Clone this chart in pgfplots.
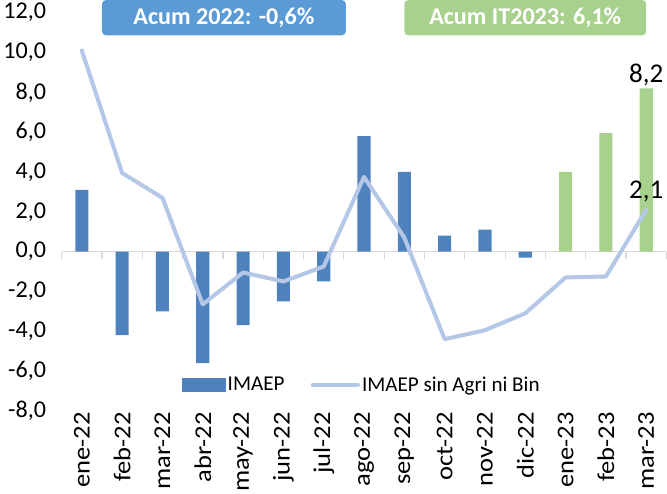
\documentclass[border=0pt]{standalone}
\usepackage{fontspec}
\setmainfont{Carlito}
\usepackage{pgfplots}
\pgfplotsset{compat=1.18}
\definecolor{barblue}{HTML}{4F81BD}
\definecolor{bargreen}{HTML}{A9D18E}
\definecolor{lineblue}{HTML}{B4C7E7}
\definecolor{boxblue}{HTML}{5B9BD5}
\definecolor{axisgray}{HTML}{D9D9D9}

\begin{document}
\begin{tikzpicture}
\begin{axis}[
    scale only axis,
    width=600bp, height=395bp,
    xmin=-0.5, xmax=14.5,
    ymin=-8, ymax=12,
    clip=false,
    axis line style={draw=none},
    tick style={draw=none},
    xtick={0,...,14},
    xticklabels={ene-22,feb-22,mar-22,abr-22,may-22,jun-22,jul-22,ago-22,sep-22,oct-22,nov-22,dic-22,ene-23,feb-23,mar-23},
    xticklabel style={rotate=90, anchor=east, xscale=1.1, inner sep=1bp, font=\fontsize{24}{28}\selectfont},
    ytick={-8,-6,...,12},
    yticklabel style={font=\fontsize{24}{28}\selectfont, xshift=-12bp,
        /pgf/number format/fixed, /pgf/number format/fixed zerofill,
        /pgf/number format/precision=1, /pgf/number format/use comma},
    /pgf/number format/assume math mode=true,
    legend style={draw=none, fill=none, at={(axis cs:6.95,-6.7)}, anchor=center,
        legend columns=2, font=\fontsize{21}{24}\selectfont,
        /tikz/every even column/.style={column sep=24bp}},
]
    % zero line with category separators
    \draw[axisgray, line width=1.2bp] (axis cs:-0.5,0) -- (axis cs:14.5,0);
    \pgfplotsinvokeforeach{-0.5,0.5,...,14.5}{
        \draw[axisgray, line width=1.2bp] (axis cs:#1,0) -- (axis cs:#1,-0.35);
    }

    % IMAEP 2022
    \addplot[ybar, bar width=13bp, bar shift=0pt, fill=barblue, draw=none,
        legend image code/.code={\fill[barblue] (0bp,-6.5bp) rectangle (43bp,6.5bp);}]
    coordinates {
        (0,3.1) (1,-4.2) (2,-3.0) (3,-5.6) (4,-3.7) (5,-2.5) (6,-1.5)
        (7,5.8) (8,4.0) (9,0.8) (10,1.1) (11,-0.3)
    };
    \addlegendentry{IMAEP}

    % IMAEP 2023
    \addplot[ybar, bar width=13bp, bar shift=0pt, fill=bargreen, draw=none, forget plot]
    coordinates {(12,4.0) (13,5.95) (14,8.2)};

    % IMAEP sin Agri ni Bin
    \addplot[lineblue, line width=4bp, line join=round, line cap=round,
        legend image code/.code={\draw[lineblue, line width=4bp, line cap=round] (0bp,0bp) -- (45bp,0bp);}]
    coordinates {
        (0,10.1) (1,3.95) (2,2.7) (3,-2.65) (4,-1.05) (5,-1.5) (6,-0.75)
        (7,3.75) (8,0.7) (9,-4.4) (10,-3.95) (11,-3.1) (12,-1.3) (13,-1.25) (14,2.1)
    };
    \addlegendentry{IMAEP sin Agri ni Bin}

    % data labels
    \node[anchor=south, inner sep=2bp, font=\fontsize{27}{30}\selectfont] at (axis cs:14,8.2) {8,2};
    \node[anchor=south, inner sep=2bp, yshift=6bp, font=\fontsize{27}{30}\selectfont] at (axis cs:14,2.1) {2,1};

    % summary boxes
    \node[fill=boxblue, rounded corners=4bp, minimum width=242bp, minimum height=35bp,
        text=white, font=\bfseries\fontsize{24}{26}\selectfont] at (axis cs:3.525,11.75) {Acum 2022: -0,6\%};
    \node[fill=bargreen, rounded corners=4bp, minimum width=240bp, minimum height=35bp,
        text=white, font=\bfseries\fontsize{24}{26}\selectfont] at (axis cs:11.0,11.75) {Acum IT2023: 6,1\%};
\end{axis}
\end{tikzpicture}
\end{document}
